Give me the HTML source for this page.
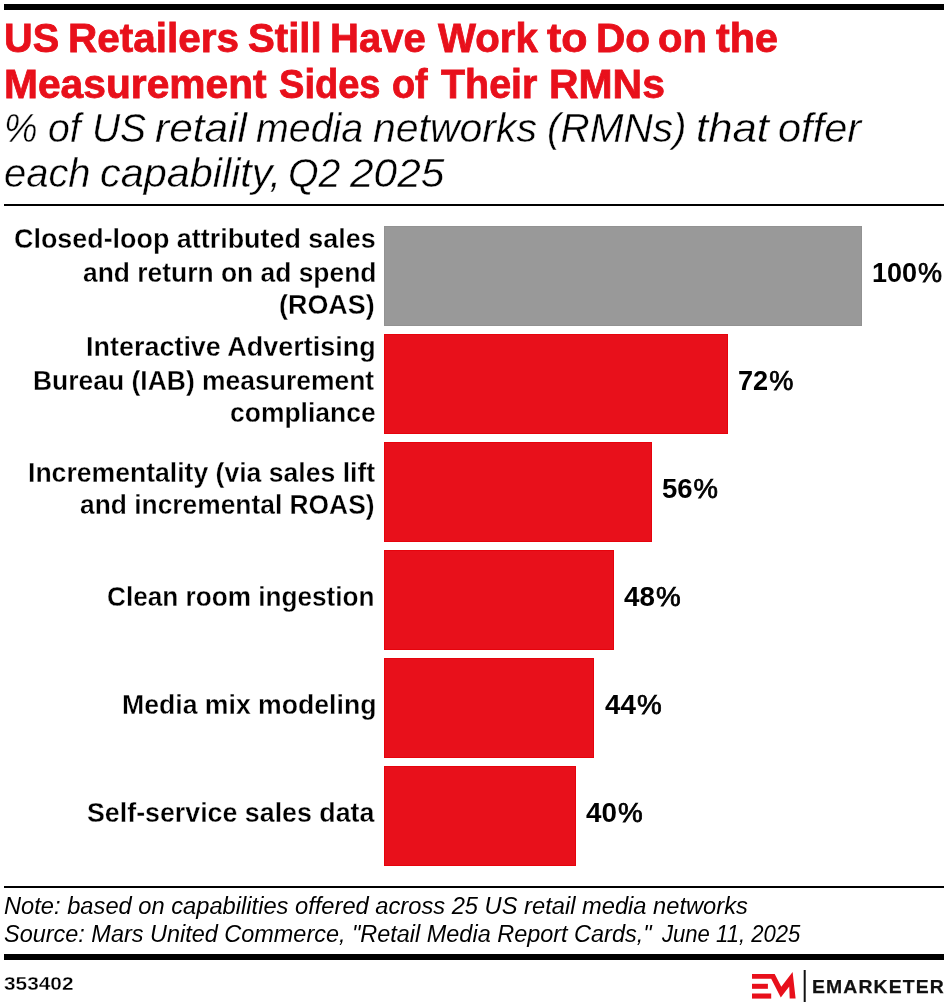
<!DOCTYPE html>
<html lang="en">
<head>
<meta charset="utf-8">
<title>US Retailers Still Have Work to Do on the Measurement Sides of Their RMNs</title>
<style>
  html, body { margin: 0; padding: 0; background: #fff; }
  body { width: 948px; height: 1006px; position: relative; overflow: hidden;
         font-family: "Liberation Sans", sans-serif; color: #000; }
  .g { position: absolute; left: 0; top: 0; }
  .t { position: absolute; display: block; white-space: nowrap; transform-origin: 0 0; line-height: 1; }
  .rule { position: absolute; left: 4px; width: 940px; background: #000; }
  .title { color: #e8101b; font-weight: bold; -webkit-text-stroke: 0.8px #e8101b; }
  .sub { font-style: italic; -webkit-text-stroke: 0.4px #fff; }
  .bar { position: absolute; left: 384px; height: 100px; background: #e8101b; box-sizing: border-box; border: 1px solid #e6030c; }
  .lab { font-weight: bold; -webkit-text-stroke: 0.3px #fff; }
  .val { font-weight: bold; }
  .pc { font-weight: normal; -webkit-text-stroke: 0.75px #000; margin-left: 1px; }
  .note { font-style: italic; }
  .id { font-weight: bold; -webkit-text-stroke: 0.3px #fff; }
  .brand { font-weight: bold; color: #111; -webkit-text-stroke: 0.25px #111; }
  #logo { position: absolute; left: 745px; top: 965px; }
</style>
</head>
<body>
  <div class="rule" style="top:4px;height:6px"></div>
  <div class="rule" style="top:204px;height:2px"></div>

  <div class="bar" style="top:226px;width:478px;background:#999;border-color:#929292"></div>
  <div class="bar" style="top:334px;width:344px"></div>
  <div class="bar" style="top:442px;width:268px"></div>
  <div class="bar" style="top:550px;width:230px"></div>
  <div class="bar" style="top:658px;width:210px"></div>
  <div class="bar" style="top:766px;width:192px"></div>

  <div class="rule" style="top:886px;height:2px"></div>
  <div class="rule" style="top:954px;height:6px"></div>

  <svg id="logo" width="70" height="41" viewBox="745 965 70 41">
    <polygon fill="#e8101b" points="752,973.9 774.7,973.9 781.3,986.8 792.6,972 795.6,998.6 789.7,998.6 789.2,986.4 780.8,997.5 771.2,978.7 752,978.7"/>
    <rect fill="#e8101b" x="752" y="983.8" width="15.9" height="5"/>
    <rect fill="#e8101b" x="752" y="993.5" width="19.2" height="5.1"/>
    <rect fill="#111" x="803.7" y="970" width="2" height="32"/>
  </svg>

  <div class="g" id="t1"><span class="t title" id="t1a" style="left:4.36px;top:17.77px;font-size:40.4px;transform:scaleX(0.9826);">US</span> <span class="t title" id="t1b" style="left:68.14px;top:17.77px;font-size:40.4px;transform:scaleX(1.0021);">Retailers</span> <span class="t title" id="t1c" style="left:247.83px;top:17.77px;font-size:40.4px;transform:scaleX(0.9947);">Still</span> <span class="t title" id="t1d" style="left:329.84px;top:17.77px;font-size:40.4px;transform:scaleX(0.9910);">Have</span> <span class="t title" id="t1e" style="left:437.96px;top:17.77px;font-size:40.4px;transform:scaleX(0.9952);">Work</span> <span class="t title" id="t1f" style="left:547.00px;top:17.77px;font-size:40.4px;transform:scaleX(1.0636);">to</span> <span class="t title" id="t1g" style="left:595.81px;top:17.77px;font-size:40.4px;transform:scaleX(1.0052);">Do</span> <span class="t title" id="t1h" style="left:658.32px;top:17.77px;font-size:40.4px;transform:scaleX(0.9905);">on</span> <span class="t title" id="t1i" style="left:716.15px;top:17.77px;font-size:40.4px;transform:scaleX(1.0214);">the</span></div>
  <div class="g" id="t2"><span class="t title" id="t2a" style="left:4.29px;top:63.77px;font-size:40.4px;transform:scaleX(1.0088);">Measurement</span> <span class="t title" id="t2b" style="left:279.01px;top:63.77px;font-size:40.4px;transform:scaleX(0.9420);">Sides</span> <span class="t title" id="t2c" style="left:391.97px;top:63.77px;font-size:40.4px;transform:scaleX(0.9360);">of</span> <span class="t title" id="t2d" style="left:441.20px;top:63.77px;font-size:40.4px;transform:scaleX(0.9760);">Their</span> <span class="t title" id="t2e" style="left:548.80px;top:63.77px;font-size:40.4px;transform:scaleX(1.0126);">RMNs</span></div>
  <div class="g" id="s1"><span class="t sub" id="s1a" style="left:4.06px;top:108.39px;font-size:40px;transform:scaleX(0.9420);">%</span> <span class="t sub" id="s1b" style="left:47.98px;top:108.39px;font-size:40px;transform:scaleX(0.9766);">of</span> <span class="t sub" id="s1c" style="left:92.04px;top:108.39px;font-size:40px;transform:scaleX(0.9734);">US</span> <span class="t sub" id="s1d" style="left:155.35px;top:108.39px;font-size:40px;transform:scaleX(1.0608);">retail</span> <span class="t sub" id="s1e" style="left:256.31px;top:108.39px;font-size:40px;transform:scaleX(0.9847);">media</span> <span class="t sub" id="s1f" style="left:373.36px;top:108.39px;font-size:40px;transform:scaleX(1.0240);">networks</span> <span class="t sub" id="s1g" style="left:546.64px;top:108.39px;font-size:40px;transform:scaleX(1.0118);">(RMNs)</span> <span class="t sub" id="s1h" style="left:695.95px;top:108.39px;font-size:40px;transform:scaleX(1.0919);">that</span> <span class="t sub" id="s1i" style="left:777.98px;top:108.39px;font-size:40px;transform:scaleX(1.0388);">offer</span></div>
  <div class="g" id="s2"><span class="t sub" id="s2a" style="left:3.74px;top:153.39px;font-size:40px;transform:scaleX(0.9976);">each</span> <span class="t sub" id="s2b" style="left:99.61px;top:153.39px;font-size:40px;transform:scaleX(1.0347);">capability,</span> <span class="t sub" id="s2c" style="left:288.14px;top:153.39px;font-size:40px;transform:scaleX(0.9832);">Q2</span> <span class="t sub" id="s2d" style="left:350.40px;top:153.39px;font-size:40px;transform:scaleX(1.0593);">2025</span></div>
  <div class="g" id="l1"><span class="t lab" id="l1a" style="left:13.99px;top:226.39px;font-size:27px;transform:scaleX(0.9961);">Closed-loop attributed sales</span> <span class="t lab" id="l1b" style="left:82.91px;top:260.39px;font-size:27px;transform:scaleX(0.9779);">and return on ad spend</span> <span class="t lab" id="l1c" style="left:279.01px;top:292.39px;font-size:27px;transform:scaleX(0.9960);">(ROAS)</span></div>
  <div class="g" id="l2"><span class="t lab" id="l2a" style="left:86.29px;top:334.39px;font-size:27px;transform:scaleX(0.9984);">Interactive Advertising</span> <span class="t lab" id="l2b" style="left:33.16px;top:368.39px;font-size:27px;transform:scaleX(0.9800);">Bureau (IAB) measurement</span> <span class="t lab" id="l2c" style="left:229.60px;top:400.39px;font-size:27px;transform:scaleX(0.9801);">compliance</span></div>
  <div class="g" id="l3"><span class="t lab" id="l3a" style="left:28.00px;top:460.39px;font-size:27px;transform:scaleX(0.9843);">Incrementality (via sales lift</span> <span class="t lab" id="l3b" style="left:79.88px;top:492.39px;font-size:27px;transform:scaleX(0.9766);">and incremental ROAS)</span></div>
  <div class="t lab" id="l4" style="left:106.80px;top:584.39px;font-size:27px;transform:scaleX(0.9693);">Clean room ingestion</div>
  <div class="t lab" id="l5" style="left:121.98px;top:692.39px;font-size:27px;transform:scaleX(0.9859);">Media mix modeling</div>
  <div class="t lab" id="l6" style="left:86.55px;top:800.39px;font-size:27px;transform:scaleX(0.9921);">Self-service sales data</div>
  <div class="t val" id="v1" style="left:871.99px;top:258.97px;font-size:27.2px;transform:scaleX(0.9940);">100<span class="pc">%</span></div>
  <div class="t val" id="v2" style="left:738.24px;top:366.97px;font-size:27.2px;transform:scaleX(0.9978);">72<span class="pc">%</span></div>
  <div class="t val" id="v3" style="left:661.99px;top:474.97px;font-size:27.2px;transform:scaleX(1.0107);">56<span class="pc">%</span></div>
  <div class="t val" id="v4" style="left:623.80px;top:582.97px;font-size:27.2px;transform:scaleX(1.0218);">48<span class="pc">%</span></div>
  <div class="t val" id="v5" style="left:604.86px;top:690.97px;font-size:27.2px;transform:scaleX(1.0223);">44<span class="pc">%</span></div>
  <div class="t val" id="v6" style="left:585.86px;top:798.97px;font-size:27.2px;transform:scaleX(1.0223);">40<span class="pc">%</span></div>
  <div class="t note" id="n1" style="left:4.24px;top:895.27px;font-size:23.3px;transform:scaleX(1.0167);">Note: based on capabilities offered across 25 US retail media networks</div>
  <div class="g" id="n2"><span class="t note" id="n2a" style="left:3.82px;top:923.27px;font-size:23.3px;transform:scaleX(1.0067);">Source: Mars United Commerce, "Retail Media Report Cards,"</span> <span class="t note" id="n2b" style="left:661.75px;top:923.27px;font-size:23.3px;transform:scaleX(0.9483);">June 11, 2025</span></div>
  <div class="t id" id="cid" style="left:3.75px;top:974.17px;font-size:19px;transform:scaleX(1.0971);">353402</div>
  <div class="t brand" id="brand" style="left:812.02px;top:976.74px;font-size:19.2px;transform:scaleX(1.0106);letter-spacing:1.1px;">EMARKETER</div>
</body>
</html>
